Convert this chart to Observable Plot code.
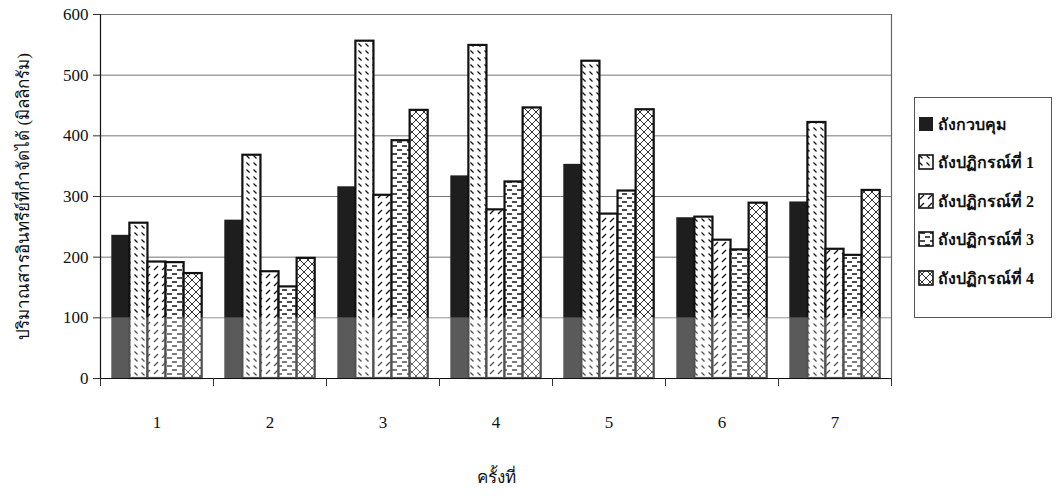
<!DOCTYPE html>
<html><head><meta charset="utf-8">
<script src="https://cdn.jsdelivr.net/npm/d3@7"></script>
<script src="https://cdn.jsdelivr.net/npm/@observablehq/plot@0.6"></script>
<style>
body{margin:0;background:#fff;}
#wrap{position:relative;width:1057px;height:501px;}
.legend{position:absolute;left:914px;top:97px;width:138px;height:221px;border:1px solid #555;box-sizing:border-box;font:bold 16px "Liberation Serif","Times New Roman",serif;color:#111;}
.item{position:absolute;left:3px;display:flex;align-items:center;gap:4px;height:20px;white-space:nowrap;}
.item svg{display:block;}
.plot-axis-label{font-weight:normal;}
</style></head><body>
<svg width="0" height="0" style="position:absolute">
<defs>
<pattern id="p1" patternUnits="userSpaceOnUse" width="7" height="7">
<rect width="7" height="7" fill="#fff"/>
<line x1="1.5" y1="1.5" x2="4.5" y2="4.5" stroke="#111" stroke-width="1.3"/>
</pattern>
<pattern id="p2" patternUnits="userSpaceOnUse" width="8" height="8">
<rect width="8" height="8" fill="#fff"/>
<line x1="2" y1="6" x2="6" y2="2" stroke="#111" stroke-width="1.3"/>
</pattern>
<pattern id="p3" patternUnits="userSpaceOnUse" width="10" height="8">
<rect width="10" height="8" fill="#fff"/>
<line x1="2" y1="2" x2="7" y2="2" stroke="#111" stroke-width="1.5"/>
<line x1="7" y1="6" x2="12" y2="6" stroke="#111" stroke-width="1.5"/>
<line x1="-3" y1="6" x2="2" y2="6" stroke="#111" stroke-width="1.5"/>
</pattern>
<pattern id="p4" patternUnits="userSpaceOnUse" width="8" height="8">
<rect width="8" height="8" fill="#fff"/>
<line x1="0" y1="0" x2="8" y2="8" stroke="#333" stroke-width="1"/>
<line x1="8" y1="0" x2="0" y2="8" stroke="#333" stroke-width="1"/>
</pattern>
</defs></svg>
<div id="wrap"></div>
<script>
const rounds = [1, 2, 3, 4, 5, 6, 7];
const seriesNames = ["ถังกวบคุม", "ถังปฏิกรณ์ที่ 1", "ถังปฏิกรณ์ที่ 2", "ถังปฏิกรณ์ที่ 3", "ถังปฏิกรณ์ที่ 4"];
const control   = [236, 261, 316, 334, 353, 265, 291];
const reactor1  = [256, 368, 556, 549, 523, 266, 422];
const reactor2  = [192, 176, 302, 278, 271, 228, 213];
const reactor3  = [191, 151, 392, 324, 309, 212, 203];
const reactor4  = [173, 198, 442, 446, 443, 289, 310];
const yTicks = [0, 100, 200, 300, 400, 500, 600];
const yTitle = "ปริมาณสารอินทรีย์ที่กำจัดได้ (มิลลิกรัม)";
const xTitle = "ครั้งที่";
const fills = ["#1e1e1e", "url(#p1)", "url(#p2)", "url(#p3)", "url(#p4)"];
const fadedBand = [{from: 0, to: 100}];

const allSeries = [control, reactor1, reactor2, reactor3, reactor4];
const rows = [];
allSeries.forEach((vals, si) => vals.forEach((v, i) => rows.push({round: rounds[i], si, series: seriesNames[si], value: v})));

const nS = seriesNames.length;
const groupW = 0.8, barW = groupW / nS;
const bx1 = d => d.round - groupW / 2 + d.si * barW;
const bx2 = d => d.round - groupW / 2 + (d.si + 1) * barW;
const xLo = rounds[0] - 0.5, xHi = rounds[rounds.length - 1] + 0.5;
const boundaries = d3.range(xLo, xHi + 0.01, 1);

const font = '"Liberation Serif","Times New Roman",serif';

const chart = Plot.plot({
  width: 1057,
  height: 501,
  marginLeft: 100,
  marginRight: 166,
  marginTop: 14,
  marginBottom: 123,
  style: {fontFamily: font, fontSize: "16px", fontWeight: "bold", color: "#111", background: "#fff"},
  x: {domain: [xLo, xHi]},
  y: {domain: [0, 600]},
  color: {type: "ordinal", domain: seriesNames, range: fills},
  marks: [
    Plot.gridY(yTicks, {stroke: "#777", strokeOpacity: 1, strokeWidth: 1}),
    Plot.ruleX([xHi], {stroke: "#666", strokeWidth: 1.2}),
    Plot.rect(rows.filter(d => d.si === 0), {x1: bx1, x2: bx2, y1: 0, y2: "value", fill: "series"}),
    Plot.rect(rows.filter(d => d.si > 0), {x1: bx1, x2: bx2, y1: 0, y2: "value", fill: "series", stroke: "#111", strokeWidth: 2.2}),
    Plot.rect(fadedBand, {x1: xLo, x2: xHi, y1: "from", y2: "to", fill: "white", fillOpacity: 0.27}),
    Plot.ruleX([xLo], {stroke: "#111", strokeWidth: 1.2}),
    Plot.ruleY([0], {stroke: "#111", strokeWidth: 1.2}),
    Plot.axisY({ticks: yTicks, tickSize: 7, tickPadding: 5, stroke: "#333", fontSize: 17,
      label: yTitle, labelAnchor: "center", labelOffset: 84, labelArrow: "none"}),
    Plot.axisX({ticks: boundaries, tickSize: 8, tickFormat: () => "", stroke: "#333", label: null}),
    Plot.axisX({ticks: rounds, tickSize: 0, tickPadding: 37, fontSize: 17, fontWeight: "normal", tickFormat: d => String(d),
      label: xTitle, labelAnchor: "center", labelOffset: 104, labelArrow: "none"})
  ]
});
chart.querySelectorAll("[aria-label$='label'] text, [aria-label='x-axis label'], [aria-label='y-axis label']").forEach(t => {
  t.setAttribute("font-weight", "normal");
  t.setAttribute("font-size", "17");
});
const wrap = document.getElementById("wrap");
wrap.appendChild(chart);

const legend = document.createElement("div");
legend.className = "legend";
const itemTops = [16, 54, 93, 131, 170];
seriesNames.forEach((name, i) => {
  const it = document.createElement("div");
  it.className = "item";
  it.style.top = itemTops[i] + "px";
  const stroke = i === 0 ? "none" : "#111";
  it.innerHTML = `<svg width="16" height="16"><rect x="1" y="1" width="14" height="14" fill="${fills[i]}" stroke="${stroke}" stroke-width="1.6"/></svg><span>${name}</span>`;
  legend.appendChild(it);
});
wrap.appendChild(legend);
</script>
</body></html>
